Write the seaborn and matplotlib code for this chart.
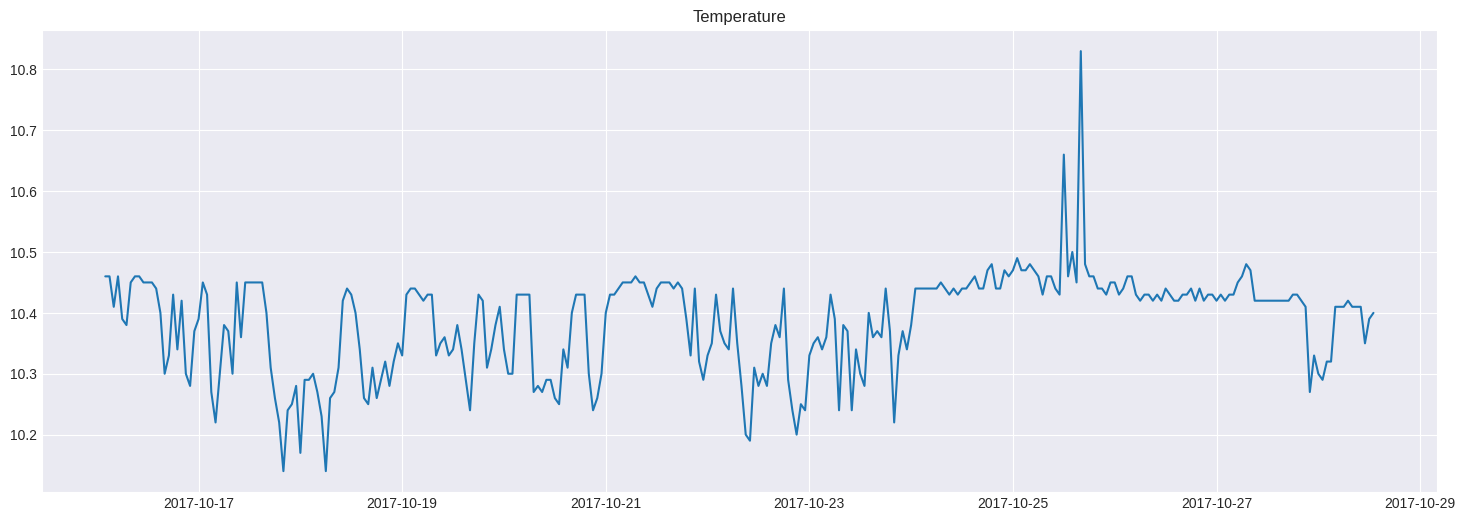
import pandas as pd
import matplotlib.pyplot as plt
import matplotlib.dates as mdates
import seaborn as sns

# hourly readings, first one at 2017-10-16 02:00
start_time = "2017-10-16 02:00"
temperature = [
    10.46, 10.46, 10.41, 10.46, 10.39, 10.38, 10.45, 10.46, 10.46, 10.45,
    10.45, 10.45, 10.44, 10.40, 10.30, 10.33, 10.43, 10.34, 10.42, 10.30,
    10.28, 10.37, 10.39, 10.45, 10.43, 10.27, 10.22, 10.30, 10.38, 10.37,
    10.30, 10.45, 10.36, 10.45, 10.45, 10.45, 10.45, 10.45,
    10.40, 10.31, 10.26, 10.22, 10.14, 10.24, 10.25, 10.28, 10.17, 10.29,
    10.29, 10.30, 10.27, 10.23, 10.14, 10.26, 10.27, 10.31, 10.42, 10.44,
    10.43, 10.40, 10.34, 10.26, 10.25, 10.31, 10.26, 10.29, 10.32, 10.28,
    10.32, 10.35, 10.33, 10.43, 10.44, 10.44, 10.43, 10.42, 10.43, 10.43,
    10.33, 10.35, 10.36, 10.33,
    10.34, 10.38, 10.34, 10.29, 10.24, 10.35, 10.43, 10.42, 10.31, 10.34,
    10.38, 10.41, 10.34, 10.30, 10.30, 10.43, 10.43, 10.43, 10.43, 10.27,
    10.28, 10.27, 10.29, 10.29, 10.26, 10.25, 10.34, 10.31, 10.40, 10.43,
    10.43, 10.43, 10.30, 10.24, 10.26, 10.30, 10.40, 10.43, 10.43, 10.44,
    10.45, 10.45, 10.45, 10.46, 10.45, 10.45, 10.43, 10.41, 10.44, 10.45,
    10.45, 10.45, 10.44, 10.45, 10.44, 10.39, 10.33, 10.44, 10.32, 10.29,
    10.33, 10.35, 10.43, 10.37, 10.35, 10.34, 10.44, 10.35, 10.28, 10.20,
    10.19, 10.31, 10.28, 10.30, 10.28, 10.35, 10.38, 10.36, 10.44, 10.29,
    10.24, 10.20,
    10.25, 10.24, 10.33, 10.35, 10.36, 10.34, 10.36, 10.43, 10.39, 10.24,
    10.38, 10.37, 10.24, 10.34, 10.30, 10.28, 10.40, 10.36, 10.37, 10.36,
    10.44, 10.37, 10.22, 10.33, 10.37, 10.34, 10.38, 10.44,
    10.44, 10.44, 10.44, 10.44, 10.44,
    10.45, 10.44, 10.43, 10.44, 10.43, 10.44, 10.44, 10.45, 10.46, 10.44,
    10.44, 10.47, 10.48, 10.44, 10.44, 10.47, 10.46, 10.47, 10.49, 10.47,
    10.47, 10.48, 10.47, 10.46, 10.43, 10.46, 10.46, 10.44, 10.43, 10.66,
    10.46, 10.50, 10.45, 10.83, 10.48, 10.46, 10.46, 10.44, 10.44, 10.43,
    10.45, 10.45, 10.43, 10.44, 10.46, 10.46, 10.43, 10.42, 10.43, 10.43,
    10.42, 10.43, 10.42, 10.44, 10.43, 10.42, 10.42, 10.43, 10.43, 10.44,
    10.42, 10.44, 10.42, 10.43, 10.43, 10.42, 10.43, 10.42, 10.43, 10.43,
    10.45, 10.46, 10.48, 10.47, 10.42,
    10.42, 10.42, 10.42, 10.42, 10.42, 10.42, 10.42, 10.42,
    10.43, 10.43, 10.42, 10.41, 10.27, 10.33, 10.30, 10.29, 10.32, 10.32,
    10.41, 10.41, 10.41, 10.42, 10.41, 10.41, 10.41, 10.35, 10.39, 10.40,
]

df = pd.DataFrame({
    "time": pd.date_range(start_time, periods=len(temperature), freq="h"),
    "temperature": temperature,
})

sns.set_style("darkgrid")
plt.rcParams["font.family"] = ["Liberation Sans", "DejaVu Sans"]
plt.rcParams["xtick.major.size"] = 0
plt.rcParams["ytick.major.size"] = 0

fig, ax = plt.subplots(figsize=(18, 6), dpi=100)
sns.lineplot(data=df, x="time", y="temperature", color="#1f77b4", linewidth=1.5, ax=ax)

ax.xaxis.set_major_locator(mdates.DayLocator(interval=2))
ax.xaxis.set_major_formatter(mdates.DateFormatter("%Y-%m-%d"))
ax.set_title("Temperature")
ax.set(xlabel="", ylabel="")

plt.savefig("out.png", dpi=100, bbox_inches="tight")
